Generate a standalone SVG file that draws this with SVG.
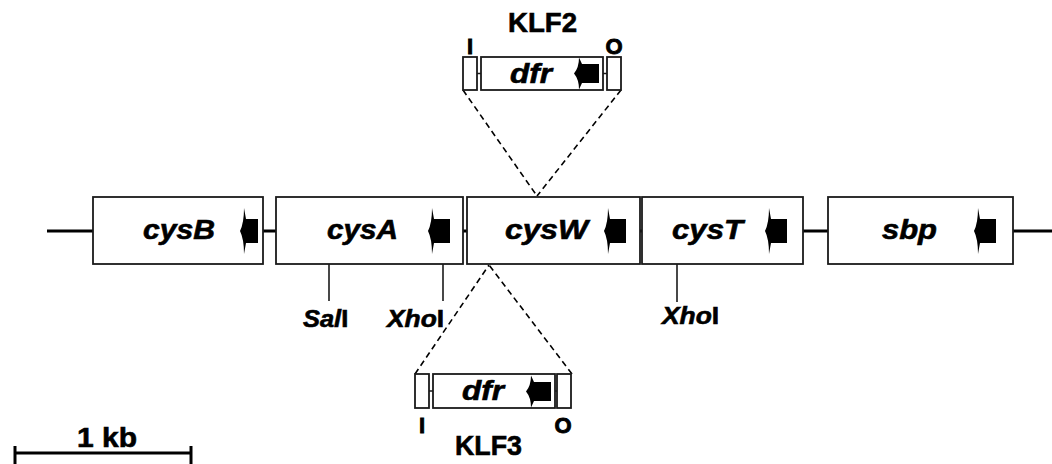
<svg xmlns="http://www.w3.org/2000/svg" width="1052" height="464" viewBox="0 0 1052 464">
  <style>
    .box { fill: #fff; stroke: #1a1a1a; stroke-width: 1.8; }
    .axis { stroke: #000; stroke-width: 3; fill: none; }
    .thin { stroke: #1a1a1a; stroke-width: 1.6; fill: none; }
    .dash { stroke: #000; stroke-width: 1.6; stroke-dasharray: 6 4; fill: none; }
    text { stroke: #000; stroke-width: 0.6; fill: #000; font-family: "Liberation Sans", Arial, sans-serif; font-weight: bold; }
    .gene { font-style: italic; font-size: 27px; }
    .lbl { font-size: 27px; }
    .end { font-size: 22px; text-anchor: middle; stroke-width: 0.9; }
    .site { font-size: 24px; }
  </style>
  <defs>
    <!-- direction-of-transcription arrows; origin = left edge of the block, vertical centre -->
    <path id="arrowGene" d="M-2,-23 Q-2,-8 -6,0 Q-2,8 -2,23 L0,12 L16,12 L16,-12 L0,-12 Z" fill="#000"/>
    <path id="arrowGeneS" d="M-2,-23 Q-2,-8 -6,0 Q-2,8 -2,23 L0,12 L12,12 L12,-12 L0,-12 Z" fill="#000"/>
    <path id="arrowCassette" d="M-3,-16 Q-3,-6 -8,0 Q-3,6 -3,16 L0,9.5 L17,9.5 L17,-9.5 L0,-9.5 Z" fill="#000"/>
  </defs>

  <!-- chromosome backbone -->
  <line class="axis" x1="47" y1="231" x2="1052" y2="231"/>

  <g id="connectors">
    <!-- KLF2 insertion into cysW -->
    <line class="dash" x1="463" y1="90" x2="537" y2="196"/>
    <line class="dash" x1="621" y1="90" x2="537" y2="196"/>
    <!-- KLF3 insertion into cysW -->
    <line class="dash" x1="415" y1="374" x2="489" y2="265"/>
    <line class="dash" x1="572" y1="374" x2="489" y2="265"/>
    <!-- restriction sites -->
    <line class="thin" x1="329" y1="264" x2="329" y2="301"/>
    <line class="thin" x1="443" y1="264" x2="443" y2="301"/>
    <line class="thin" x1="677" y1="264" x2="677" y2="302"/>
  </g>

  <g id="cysB">
    <rect class="box" x="93" y="197" width="170" height="67"/>
    <text class="gene" x="143" y="239" textLength="72" lengthAdjust="spacingAndGlyphs">cysB</text>
    <use href="#arrowGeneS" x="246" y="231"/>
  </g>
  <g id="cysA">
    <rect class="box" x="276" y="197" width="187" height="67"/>
    <text class="gene" x="327" y="239" textLength="71" lengthAdjust="spacingAndGlyphs">cysA</text>
    <use href="#arrowGene" x="434" y="231"/>
  </g>
  <g id="cysW">
    <rect class="box" x="467" y="197" width="173" height="67"/>
    <text class="gene" x="505" y="239" textLength="83" lengthAdjust="spacingAndGlyphs">cysW</text>
    <use href="#arrowGene" x="610" y="231"/>
  </g>
  <g id="cysT">
    <rect class="box" x="642" y="197" width="161" height="67"/>
    <text class="gene" x="672" y="239" textLength="71" lengthAdjust="spacingAndGlyphs">cysT</text>
    <use href="#arrowGene" x="771" y="231"/>
  </g>
  <g id="sbp">
    <rect class="box" x="828" y="197" width="185" height="67"/>
    <text class="gene" x="882" y="239" textLength="55" lengthAdjust="spacingAndGlyphs">sbp</text>
    <use href="#arrowGene" x="980" y="231"/>
  </g>

  <!-- restriction site labels -->
  <g id="site-SalI">
    <text class="site" transform="translate(303,327) scale(1.06,1)"><tspan font-style="italic">Sal</tspan>I</text>
  </g>
  <g id="site-XhoI-cysA">
    <text class="site" transform="translate(387,327) scale(1.1,1)"><tspan font-style="italic">Xho</tspan>I</text>
  </g>
  <g id="site-XhoI-cysT">
    <text class="site" transform="translate(662,324) scale(1.1,1)"><tspan font-style="italic">Xho</tspan>I</text>
  </g>

  <g id="KLF2">
    <text class="lbl" x="508" y="32" textLength="69" lengthAdjust="spacingAndGlyphs">KLF2</text>
    <line class="thin" x1="477" y1="73.5" x2="607" y2="73.5"/>
    <rect class="box" x="463" y="57" width="14" height="33"/>
    <rect class="box" x="481" y="57" width="122" height="33"/>
    <rect class="box" x="607" y="57" width="14" height="33"/>
    <text class="gene" x="510" y="83" textLength="42" lengthAdjust="spacingAndGlyphs">dfr</text>
    <use href="#arrowCassette" x="582" y="73.5"/>
    <text class="end" x="470" y="54">I</text>
    <text class="end" x="614" y="54">O</text>
  </g>

  <g id="KLF3">
    <line class="thin" x1="429" y1="391" x2="557" y2="391"/>
    <rect class="box" x="415" y="374" width="14" height="34"/>
    <rect class="box" x="433" y="374" width="122" height="34"/>
    <rect class="box" x="557" y="374" width="14" height="34"/>
    <text class="gene" x="462" y="400" textLength="42" lengthAdjust="spacingAndGlyphs">dfr</text>
    <use href="#arrowCassette" x="534" y="391.5"/>
    <text class="end" x="422" y="433">I</text>
    <text class="end" x="563" y="433">O</text>
    <text class="lbl" x="455" y="455" textLength="67" lengthAdjust="spacingAndGlyphs">KLF3</text>
  </g>

  <g id="scale-bar">
    <line class="axis" x1="15" y1="453" x2="191" y2="453"/>
    <line class="axis" x1="15" y1="446" x2="15" y2="464"/>
    <line class="axis" x1="191" y1="446" x2="191" y2="464"/>
    <text class="lbl" x="77" y="447" textLength="60" lengthAdjust="spacingAndGlyphs">1 kb</text>
  </g>
</svg>
